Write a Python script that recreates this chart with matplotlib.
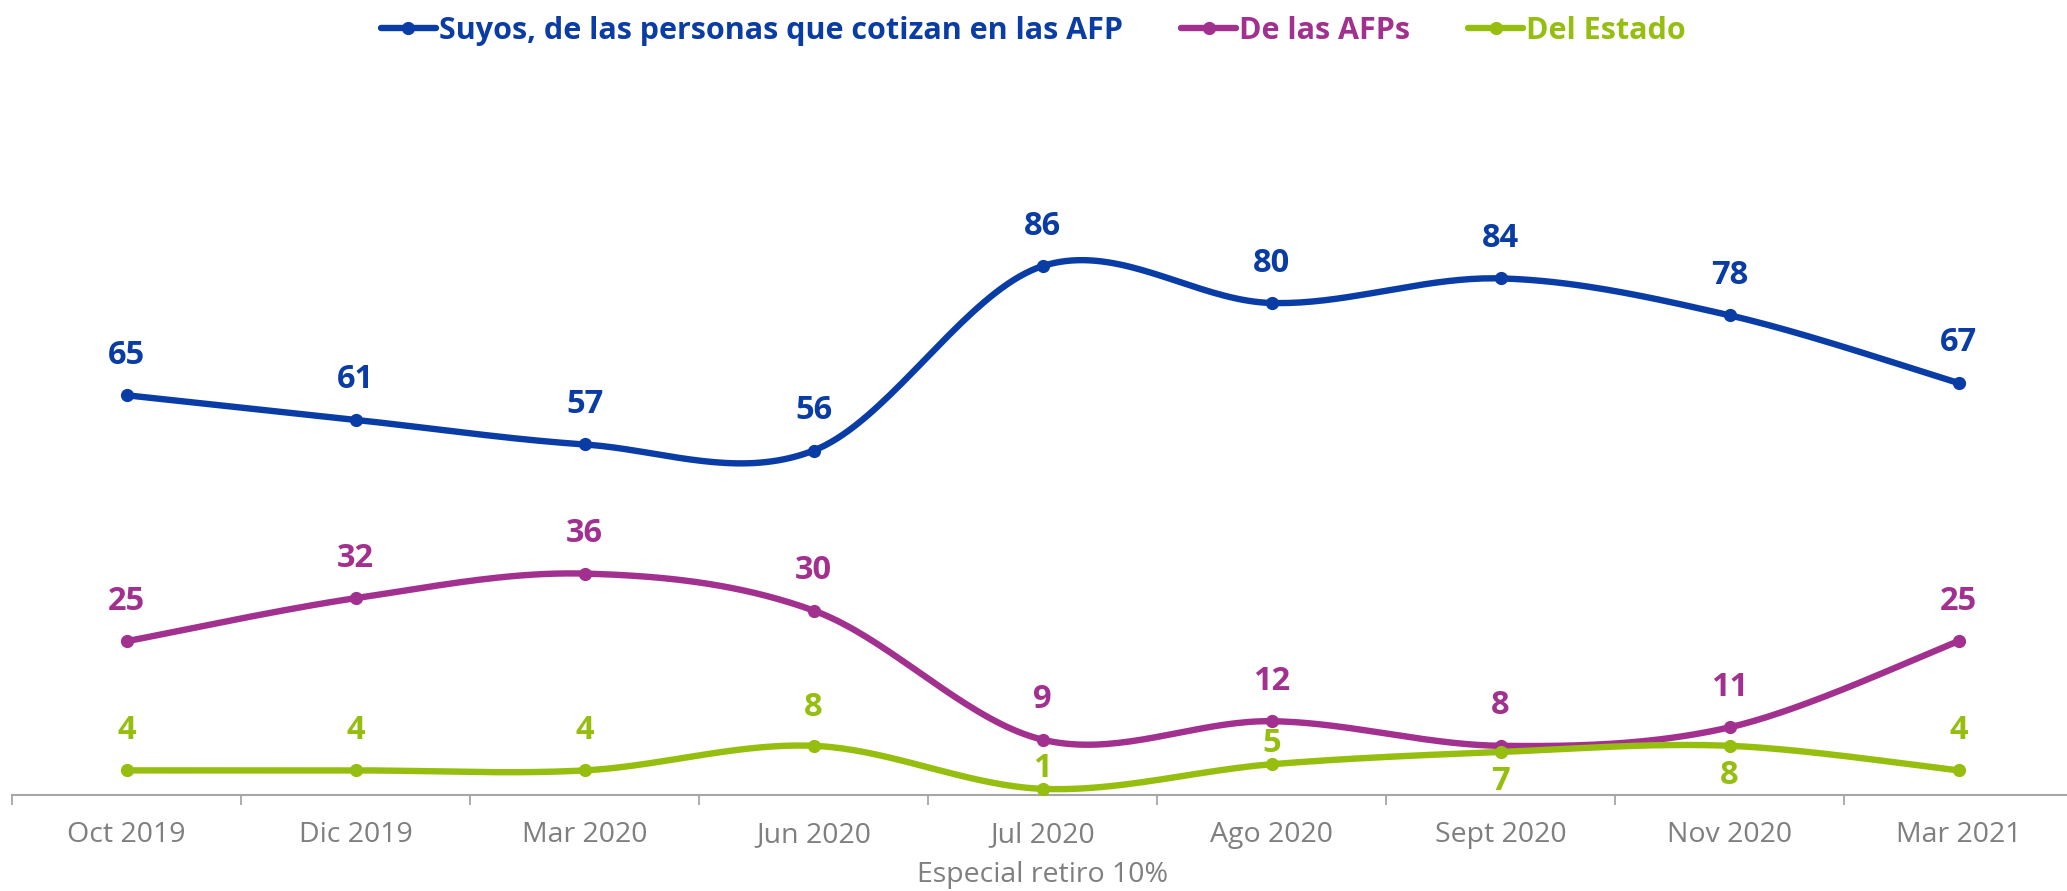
import numpy as np
import matplotlib
matplotlib.use("Agg")
import matplotlib.pyplot as plt
from matplotlib.lines import Line2D

plt.rcParams['font.family'] = ['Open Sans', 'DejaVu Sans']

# ---- data ----
categories = ["Oct 2019", "Dic 2019", "Mar 2020", "Jun 2020", "Jul 2020\nEspecial retiro 10%",
              "Ago 2020", "Sept 2020", "Nov 2020", "Mar 2021"]
series_names = ["Suyos, de las personas que cotizan en las AFP", "De las AFPs", "Del Estado"]
suyos = [65, 61, 57, 56, 86, 80, 84, 78, 67]
afps = [25, 32, 36, 30, 9, 12, 8, 11, 25]
estado = [4, 4, 4, 8, 1, 5, 7, 8, 4]

# styling (not data)
colors = ["#0A3CA5", "#A2308F", "#95BE0F"]
label_offsets = [
    [40] * 9,
    [40] * 9,
    [40, 40, 40, 38, 20, 21, -30, -30, 40],
]


def smooth(xs, ys, n=40):
    """Excel-like smoothed line (Catmull-Rom Bezier)."""
    P = np.column_stack([xs, ys]).astype(float)
    m = len(P)
    out = []
    for i in range(m - 1):
        p0 = P[i - 1] if i > 0 else P[i]
        p1 = P[i]
        p2 = P[i + 1]
        p3 = P[i + 2] if i + 2 < m else P[i + 1]
        c1 = p1 + (p2 - p0) / 6.0
        c2 = p2 - (p3 - p1) / 6.0
        t = np.linspace(0, 1, n)[:, None]
        seg = ((1 - t) ** 3) * p1 + 3 * ((1 - t) ** 2) * t * c1 + 3 * (1 - t) * t ** 2 * c2 + t ** 3 * p2
        out.append(seg if i == 0 else seg[1:])
    S = np.vstack(out)
    return S[:, 0], S[:, 1]


W, H = 2067, 891
fig = plt.figure(figsize=(W / 100, H / 100), dpi=100)
ax = fig.add_axes([12 / W, (H - 795) / H, 2061 / W, 615 / H])
ax.set_xlim(-0.5, len(categories) - 0.5)
ax.set_ylim(0, 100)

x = np.arange(len(categories))
all_series = [suyos, afps, estado]
for k, (vals, col) in enumerate(zip(all_series, colors)):
    sx, sy = smooth(x, vals)
    ax.plot(sx, sy, color=col, lw=4.6, solid_capstyle='round', zorder=3 + k, clip_on=False)
    ax.plot(x, vals, 'o', color=col, ms=8.5, zorder=3 + k, clip_on=False)
    for i, v in enumerate(vals):
        ax.annotate(str(v), (x[i], v), xytext=(0, label_offsets[k][i]), textcoords='offset pixels',
                    ha='center', va='center', fontsize=23.5, fontweight='bold', color=col,
                    zorder=10, annotation_clip=False)

for s in ['top', 'right', 'left']:
    ax.spines[s].set_visible(False)
ax.spines['bottom'].set_color('#A6A6A6')
ax.spines['bottom'].set_linewidth(1.5)
ax.set_yticks([])
ax.set_xticks(x)
ax.set_xticklabels(categories, fontsize=20.5, color='#7F7F7F', linespacing=1.55)
ax.tick_params(axis='x', which='major', length=0, pad=19)
ax.set_xticks(np.arange(-0.5, len(categories), 1.0), minor=True)
ax.tick_params(axis='x', which='minor', length=7.2, width=1.3, color='#A6A6A6', direction='out')

handles = [Line2D([0], [0], color=c, lw=4.6, marker='o', ms=8.5, solid_capstyle='round') for c in colors]
leg = fig.legend(handles, series_names, loc='center', bbox_to_anchor=(0.5, 1 - 31 / H), ncol=3,
                 frameon=False, handlelength=1.8, handletextpad=0.1, columnspacing=1.9,
                 prop={'size': 22, 'weight': 'bold'})
for t, c in zip(leg.get_texts(), colors):
    t.set_color(c)

fig.savefig("out.png", dpi=100)
